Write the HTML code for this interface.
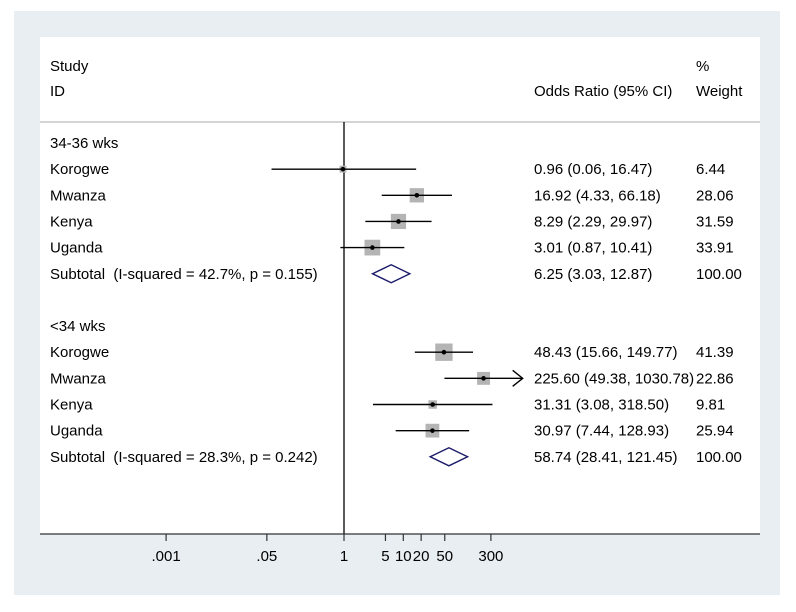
<!DOCTYPE html>
<html><head><meta charset="utf-8"><style>
html,body{margin:0;padding:0;background:#fff;}
svg{display:block;font-family:"Liberation Sans",Arial,sans-serif;}
text{white-space:pre;}
</style></head><body>
<svg id="chart" width="796" height="612" viewBox="0 0 796 612" xmlns="http://www.w3.org/2000/svg">
<rect x="14" y="11" width="766" height="584" fill="#e8eef1"/>
<rect x="40" y="37" width="720" height="497" fill="#fff"/>
<line x1="40" y1="122" x2="760" y2="122" stroke="#d4d4d4" stroke-width="2"/>
<g font-size="15" fill="#000">
<text x="50" y="71">Study</text>
<text x="50" y="96">ID</text>
<text x="534" y="96">Odds Ratio (95% CI)</text>
<text x="696" y="71">%</text>
<text x="696" y="96">Weight</text>
</g>
<g id="rows"></g>
<g id="axis"></g>
</svg>
<script>
const labels = ["34-36 wks","Korogwe","Mwanza","Kenya","Uganda","Subtotal  (I-squared = 42.7%, p = 0.155)","","<34 wks","Korogwe","Mwanza","Kenya","Uganda","Subtotal  (I-squared = 28.3%, p = 0.242)"];
const kinds = ["group","study","study","study","study","sub","blank","group","study","study","study","study","sub"];
const orVals = [null,0.96,16.92,8.29,3.01,6.25,null,null,48.43,225.60,31.31,30.97,58.74];
const loVals = [null,0.06,4.33,2.29,0.87,3.03,null,null,15.66,49.38,3.08,7.44,28.41];
const hiVals = [null,16.47,66.18,29.97,10.41,12.87,null,null,149.77,1030.78,318.50,128.93,121.45];
const ciText = ["","0.96 (0.06, 16.47)","16.92 (4.33, 66.18)","8.29 (2.29, 29.97)","3.01 (0.87, 10.41)","6.25 (3.03, 12.87)","","","48.43 (15.66, 149.77)","225.60 (49.38, 1030.78)","31.31 (3.08, 318.50)","30.97 (7.44, 128.93)","58.74 (28.41, 121.45)"];
const weights = [null,6.44,28.06,31.59,33.91,100.00,null,null,41.39,22.86,9.81,25.94,100.00];
const tickVals = [0.001,0.05,1,5,10,20,50,300];
const tickLabels = [".001",".05","1","5","10","20","50","300"];

const NS="http://www.w3.org/2000/svg";
const x = v => 344 + Math.log10(v)*59.3;
const y = i => 143 + i*26.15;
function mk(tag, attrs, parent){const e=document.createElementNS(NS,tag);for(const k in attrs)e.setAttribute(k,attrs[k]);parent.appendChild(e);return e;}
const rows=document.getElementById('rows');
const axis=document.getElementById('axis');

const nl = mk('line',{x1:x(1),y1:122,x2:x(1),y2:534,stroke:'#000','stroke-width':1.3},rows);



labels.forEach((lab,i)=>{
  const yy=y(i);
  if(lab){
    const t=mk('text',{x:50,y:yy+5,'font-size':15},rows);t.textContent=lab;
    
    
  }
  if(ciText[i]){
    const t=mk('text',{x:534,y:yy+5,'font-size':15},rows);t.textContent=ciText[i];
    
    
    const w=mk('text',{x:696,y:yy+5,'font-size':15},rows);w.textContent=weights[i].toFixed(2);
    
    
  }
  if(kinds[i]==='study'){
    const s=Math.sqrt(weights[i])*2.7;
    const sq=mk('rect',{x:x(orVals[i])-s/2,y:yy-s/2,width:s,height:s,fill:'#b4b4b4'},rows);
    
    
    const ln=mk('line',{x1:x(loVals[i]),y1:yy,x2:x(hiVals[i]),y2:yy,stroke:'#000','stroke-width':1.4},rows);
    
    
    if(hiVals[i]>1000){
      const a=mk('path',{d:`M${x(hiVals[i])-10},${yy-8} L${x(hiVals[i])},${yy} L${x(hiVals[i])-10},${yy+8}`,fill:'none',stroke:'#000','stroke-width':1.4},rows);
      
      
    }
    const d=mk('circle',{cx:x(orVals[i]),cy:yy,r:2.3,fill:'#000'},rows);
    
    
  }
  if(kinds[i]==='sub'){
    const p=mk('polygon',{points:`${x(loVals[i])},${yy} ${x(orVals[i])},${yy-9} ${x(hiVals[i])},${yy} ${x(orVals[i])},${yy+9}`,fill:'#fff',stroke:'#1c1c6a','stroke-width':1.4},rows);
    
    
  }
});

const al=mk('line',{x1:40,y1:534,x2:760,y2:534,stroke:'#333','stroke-width':1.3},axis);


tickVals.forEach((v,i)=>{
  const tk=mk('line',{x1:x(v),y1:534,x2:x(v),y2:541,stroke:'#333','stroke-width':1.2},axis);
  
  
  const t=mk('text',{x:x(v),y:561,'font-size':15,'text-anchor':'middle'},axis);t.textContent=tickLabels[i];
  
  
});
</script>
</body></html>
